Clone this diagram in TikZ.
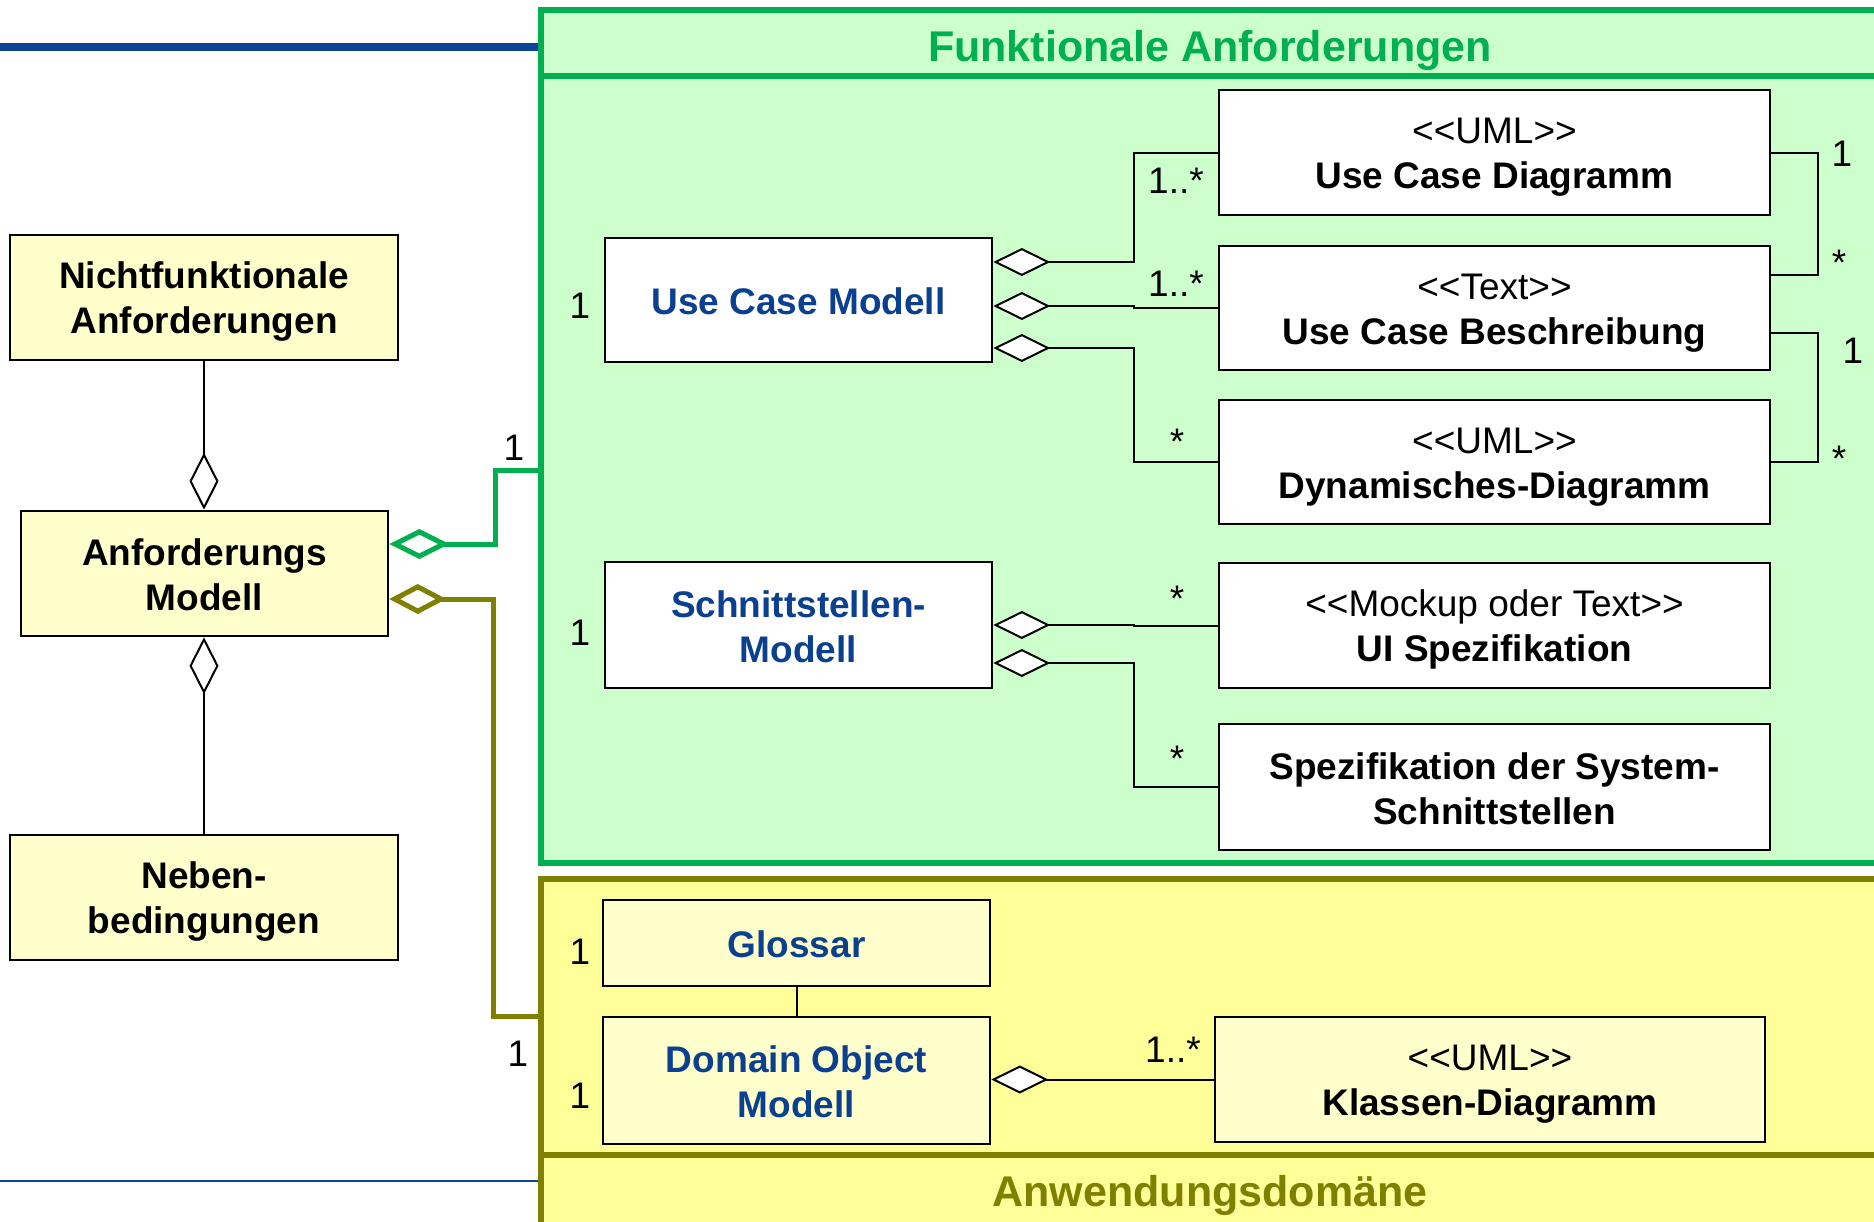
\documentclass[tikz,border=0pt]{standalone}
\usepackage{fontspec}
\setmainfont{Liberation Sans}
\usetikzlibrary{arrows.meta,calc}
\definecolor{frgreen}{HTML}{00B050}
\definecolor{frgreenfill}{HTML}{CCFFCC}
\definecolor{olivedark}{HTML}{7F7F00}
\definecolor{yellowfill}{HTML}{FFFF99}
\definecolor{boxfill}{HTML}{FFFFCC}
\definecolor{textblue}{HTML}{0B3F8F}
\definecolor{lineblue}{HTML}{0B4596}

% stereotype brackets without guillemet ligatures
\newcommand\mystereo[1]{<\kern0pt<#1>\kern0pt>}
% fixed line height and depth, so that box texts sit alike
\newcommand\mystrut{\rule[-3pt]{0pt}{20.5pt}}

\begin{document}
\begin{tikzpicture}[x=0.5pt,y=-0.5pt,
  cls/.style={draw=black, line width=1.3pt, inner sep=0pt, align=center,
    font=\bfseries\fontsize{18.5}{22.5}\selectfont},
  yel/.style={cls, fill=boxfill},
  wht/.style={cls, fill=white},
  blu/.style={text=textblue},
  mult/.style={anchor=base, inner sep=0pt, font=\fontsize{18.5}{22.5}\selectfont},
  conn/.style={draw=black, line width=1pt},
  agg/.style={conn, -{Diamond[fill=white,length=28.5pt,width=14pt]}},
  aggv/.style={conn, -{Diamond[fill=white,length=28.5pt,width=14.5pt]}},
  agggreen/.style={draw=frgreen, line width=2.5pt, -{Diamond[fill=white,length=30pt,width=15pt]}},
  aggolive/.style={draw=olivedark, line width=2.5pt, -{Diamond[fill=white,length=28.5pt,width=15pt]}},
  paneltitle/.style={anchor=base, inner sep=0pt, font=\bfseries\fontsize{21.5}{26}\selectfont},
]
\useasboundingbox (0,0) rectangle (1874,1221);
\clip (0,0) rectangle (1874,1221);
\fill[white] (0,0) rectangle (1874,1221);

% rules on the left
\draw[lineblue, line width=3.6pt] (0,47) -- (541,47);
\draw[lineblue, line width=1pt] (0,1181) -- (541,1181);

% panel: functional requirements
\draw[frgreen, line width=3pt, fill=frgreenfill] (541,10) rectangle (1920,863);
\draw[frgreen, line width=3pt] (541,76) -- (1920,76);
\node[paneltitle, text=frgreen] (fatitle) at (1210,61) {Funktionale Anforderungen};

% panel: application domain
\draw[olivedark, line width=3pt, fill=yellowfill] (541,879) rectangle (1920,1260);
\draw[olivedark, line width=3pt] (541,1155) -- (1920,1155);
\node[paneltitle, text=olivedark] (adtitle) at (1210,1206) {Anwendungsdomäne};

\coordinate (gin) at (541,470);
\coordinate (oin) at (541,1016);

% left column
\node[yel, minimum width=194pt, minimum height=62.5pt] (nf) at (204,297.5) {\mystrut Nichtfunktionale\\Anforderungen\mystrut};
\node[yel, minimum width=183.5pt, minimum height=62.5pt] (am) at (204.5,573.5) {\mystrut Anforderungs\\Modell\mystrut};
\node[yel, minimum width=194pt, minimum height=62.5pt] (nb) at (204,897.5) {\mystrut Neben-\\bedingungen\mystrut};

% models
\node[wht, blu, minimum width=193.5pt, minimum height=62pt] (ucm) at (798.5,300) {\mystrut Use Case Modell};
\node[wht, blu, minimum width=193.5pt, minimum height=63pt] (ssm) at (798.5,625) {\mystrut Schnittstellen-\\Modell\mystrut};
\node[yel, blu, minimum width=193.5pt, minimum height=43pt] (gl) at (796.5,943) {\mystrut Glossar};
\node[yel, blu, minimum width=193.5pt, minimum height=63.5pt] (dom) at (796.5,1080.5) {\mystrut Domain Object\\Modell\mystrut};

% artefacts
\node[wht, minimum width=275.5pt, minimum height=62.5pt] (ucd) at (1494.5,152.5) {\mystrut{\mdseries\mystereo{UML}}\\Use Case Diagramm\mystrut};
\node[wht, minimum width=275.5pt, minimum height=62pt] (ucb) at (1494.5,308) {\mystrut{\mdseries\mystereo{Text}}\\Use Case Beschreibung\mystrut};
\node[wht, minimum width=275.5pt, minimum height=62pt] (dyn) at (1494.5,462) {\mystrut{\mdseries\mystereo{UML}}\\Dynamisches-Diagramm\mystrut};
\node[wht, minimum width=275.5pt, minimum height=62.5pt] (ui) at (1494.5,625.5) {\mystrut{\mdseries\mystereo{Mockup oder Text}}\\UI Spezifikation\mystrut};
\node[wht, minimum width=275.5pt, minimum height=63pt] (sys) at (1494.5,787) {\mystrut Spezifikation der System-\\Schnittstellen\mystrut};
\node[yel, minimum width=275pt, minimum height=62.5pt] (kd) at (1490,1079.5) {\mystrut{\mdseries\mystereo{UML}}\\Klassen-Diagramm\mystrut};

% diamond end points on the aggregates
\coordinate (a1) at ($(ucm.east)+(0,-38)$);
\coordinate (a2) at ($(ucm.east)+(0,6)$);
\coordinate (a3) at ($(ucm.east)+(0,48)$);
\coordinate (b1) at ($(ssm.east)+(0,0)$);
\coordinate (b2) at ($(ssm.east)+(0,38)$);
\coordinate (g1) at ($(am.east)+(0,-29.5)$);
\coordinate (o1) at ($(am.east)+(0,25.5)$);

% aggregations
\draw[aggv] (nf.south) -- (nf.south |- am.north);
\draw[aggv] (nb.north) -- (nb.north |- am.south);
\draw[agggreen] (gin) -- ++(-46,0) |- (g1);
\draw[aggolive] (oin) -- ++(-48,0) |- (o1);

\draw[agg] (ucd.west) -- ++(-84,0) |- (a1);
\draw[agg] (ucb.west) -- ++(-84,0) |- (a2);
\draw[agg] (dyn.west) -- ++(-84,0) |- (a3);
\draw[agg] (ui.west) -- ++(-84,0) |- (b1);
\draw[agg] (sys.west) -- ++(-84,0) |- (b2);
\draw[agg] (kd.west) -- (kd.west -| dom.east);
\draw[conn] (gl.south) -- (dom.north);

% associations between the artefacts
\draw[conn] (ucd.east) -- ++(47,0) |- ($(ucb.north east)+(0,30)$);
\draw[conn] ($(ucb.east)+(0,25)$) -- ++(47,0) |- (dyn.east);

% multiplicities
\node[mult] (m1) at (580,318) {1};
\node[mult] (m2) at (580,645) {1};
\node[mult] (m3) at (580,964) {1};
\node[mult] (m4) at (580,1108) {1};
\node[mult] (m5) at (514,460) {1};
\node[mult] (m6) at (518,1066) {1};
\node[mult] (m7) at (1176,193) {1..*};
\node[mult] (m8) at (1176,296) {1..*};
\node[mult] (m9) at (1177,454) {*};
\node[mult] (m10) at (1177,611) {*};
\node[mult] (m11) at (1177,771) {*};
\node[mult] (m12) at (1173,1062) {1..*};
\node[mult] (m13) at (1842,166) {1};
\node[mult] (m14) at (1839,275) {*};
\node[mult] (m15) at (1853,363) {1};
\node[mult] (m16) at (1839,471) {*};
\end{tikzpicture}
\end{document}
